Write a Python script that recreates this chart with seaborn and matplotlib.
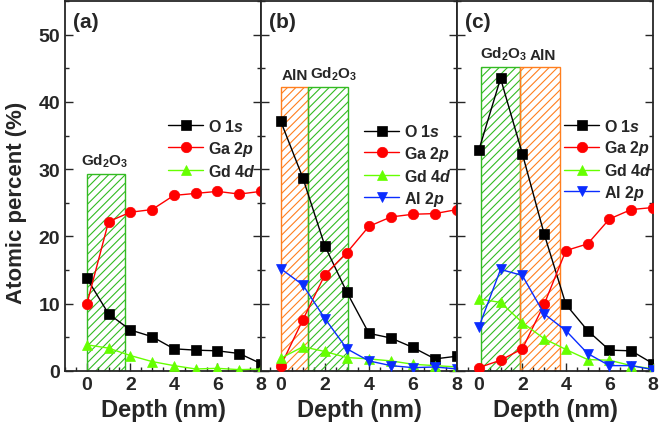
import numpy as np
import pandas as pd
import matplotlib
matplotlib.use("Agg")
import matplotlib.pyplot as plt
import seaborn as sns
from matplotlib.patches import Rectangle
from matplotlib.ticker import MultipleLocator

# depth profile data (atomic %)
depth = [0, 1, 2, 3, 4, 5, 6, 7, 8]

a_O = [13.8, 8.5, 6.1, 5.1, 3.3, 3.1, 3.0, 2.6, 1.1]
a_Ga = [9.9, 22.2, 23.6, 24.0, 26.1, 26.4, 26.7, 26.3, 26.7]
a_Gd = [3.9, 3.4, 2.3, 1.4, 0.8, 0.3, 0.4, 0.2, 0.3]

b_O = [37.1, 28.7, 18.6, 11.7, 5.6, 4.9, 3.5, 1.8, 2.2]
b_Ga = [0.8, 7.6, 14.3, 17.6, 21.5, 22.9, 23.3, 23.4, 24.0]
b_Gd = [1.9, 3.6, 2.9, 2.0, 1.8, 1.5, 1.0, 0.8, 0.6]
b_Al = [15.2, 12.8, 7.8, 3.3, 1.5, 0.8, 0.5, 0.6, 0.3]

c_O = [32.8, 43.5, 32.3, 20.4, 9.9, 6.0, 3.1, 3.0, 1.1]
c_Ga = [0.5, 1.6, 3.3, 9.9, 17.9, 18.9, 22.6, 24.0, 24.3]
c_Gd = [10.7, 10.2, 7.2, 4.8, 3.2, 1.7, 1.6, 0.8, 0.3]
c_Al = [6.5, 15.1, 14.2, 8.5, 6.0, 2.6, 0.8, 0.8, 0.2]

# layer regions: (name, x start, x end, height)
a_layers = [("Gd$_2$O$_3$", 0.0, 1.75, 29.3)]
b_layers = [("AlN", 0.0, 1.25, 42.2), ("Gd$_2$O$_3$", 1.25, 3.05, 42.2)]
c_layers = [("Gd$_2$O$_3$", 0.1, 1.9, 45.2), ("AlN", 1.9, 3.75, 45.2)]

species = ["O 1$\\mathit{s}$", "Ga 2$\\mathit{p}$", "Gd 4$\\mathit{d}$", "Al 2$\\mathit{p}$"]

sns.set_style("ticks")
plt.rcParams["font.family"] = ["Liberation Sans", "DejaVu Sans"]
plt.rcParams["font.weight"] = "bold"
plt.rcParams["mathtext.fontset"] = "custom"
plt.rcParams["mathtext.rm"] = "Liberation Sans:bold"
plt.rcParams["mathtext.it"] = "Liberation Sans:bold:italic"
plt.rcParams["mathtext.bf"] = "Liberation Sans:bold"
plt.rcParams["hatch.linewidth"] = 0.8

colors = ["black", "#ff0000", "#66ff00", "#0a2cff"]
markers = ["s", "o", "^", "v"]
layer_col = {"AlN": "#ff7f1e", "Gd$_2$O$_3$": "#33bb22"}

fig = plt.figure(figsize=(6.61, 4.35), dpi=100)
W = 196 / 661
L = 65 / 661
B = 1 - 372 / 435
H = 370 / 435

panels = [
    ("(a)", [a_O, a_Ga, a_Gd], a_layers, -1.0, (0.47, 0.714), [0.8]),
    ("(b)", [b_O, b_Ga, b_Gd, b_Al], b_layers, -0.9, (0.47, 0.70), [0.62, 2.4]),
    ("(c)", [c_O, c_Ga, c_Gd, c_Al], c_layers, -1.0, (0.49, 0.715), [1.15, 2.95]),
]

for i, (tag, series, layers, x0, leg_pos, txt_x) in enumerate(panels):
    ax = fig.add_axes([L + i * W, B, W, H])
    for (name, xs, xe, h), tx in zip(layers, txt_x):
        c = layer_col[name]
        ax.add_patch(Rectangle((xs, 0), xe - xs, h, facecolor="none",
                               edgecolor=c, hatch="////", lw=1.0, zorder=1))
        ax.text(tx, h + 0.8, name, ha="center", va="bottom", fontsize=11,
                fontweight="bold")
    for k, vals in enumerate(series):
        sns.lineplot(x=depth, y=vals, ax=ax, color=colors[k], marker=markers[k],
                     markersize=7.5, markeredgecolor=colors[k], markeredgewidth=0.5,
                     linewidth=1.0, label=species[k], zorder=3)
    ax.set_xlim(x0, 8)
    ax.set_ylim(0, 55)
    ax.xaxis.set_major_locator(MultipleLocator(2))
    ax.xaxis.set_minor_locator(MultipleLocator(0.5))
    ax.yaxis.set_major_locator(MultipleLocator(10))
    ax.yaxis.set_minor_locator(MultipleLocator(5))
    ax.tick_params(which="both", direction="in", left=True, right=True,
                   labelsize=14, width=1.0)
    ax.tick_params(which="major", length=6)
    ax.tick_params(which="minor", length=3)
    for lab in ax.get_xticklabels() + ax.get_yticklabels():
        lab.set_fontweight("bold")
    if i > 0:
        ax.set_yticklabels([])
    else:
        ax.set_ylabel("Atomic percent (%)", fontsize=16, fontweight="bold")
        ax.yaxis.set_label_coords(-0.195, 0.457)
    ax.set_xlabel("Depth (nm)", fontsize=17, fontweight="bold")
    for s in ax.spines.values():
        s.set_linewidth(1.3)
    ax.text(0.04, 0.97, tag, transform=ax.transAxes, ha="left", va="top",
            fontsize=15, fontweight="bold")
    ax.legend(loc="upper left", bbox_to_anchor=leg_pos, frameon=False,
              fontsize=11.5, handlelength=2.2, handletextpad=0.3,
              labelspacing=0.3, borderpad=0.2)

fig.savefig("out.png", dpi=100)
